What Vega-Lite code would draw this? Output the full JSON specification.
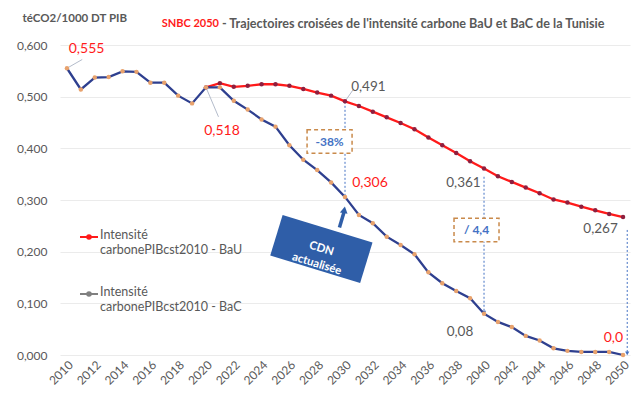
{
  "$schema": "https://vega.github.io/schema/vega-lite/v6.json",
  "width": 570,
  "height": 310,
  "autosize": {"type": "none"},
  "padding": {"left": 60, "top": 45, "right": 5, "bottom": 45},
  "background": "white",
  "config": {
    "view": {"stroke": null},
    "font": "Lato",
    "text": {"font": "Lato"}
  },
  "datasets": {
    "series": [
      {"year": 2020, "value": 0.518, "serie": "BaU"},
      {"year": 2021, "value": 0.526, "serie": "BaU"},
      {"year": 2022, "value": 0.519, "serie": "BaU"},
      {"year": 2023, "value": 0.521, "serie": "BaU"},
      {"year": 2024, "value": 0.524, "serie": "BaU"},
      {"year": 2025, "value": 0.524, "serie": "BaU"},
      {"year": 2026, "value": 0.521, "serie": "BaU"},
      {"year": 2027, "value": 0.515, "serie": "BaU"},
      {"year": 2028, "value": 0.508, "serie": "BaU"},
      {"year": 2029, "value": 0.502, "serie": "BaU"},
      {"year": 2030, "value": 0.491, "serie": "BaU"},
      {"year": 2031, "value": 0.482, "serie": "BaU"},
      {"year": 2032, "value": 0.471, "serie": "BaU"},
      {"year": 2033, "value": 0.460, "serie": "BaU"},
      {"year": 2034, "value": 0.449, "serie": "BaU"},
      {"year": 2035, "value": 0.437, "serie": "BaU"},
      {"year": 2036, "value": 0.421, "serie": "BaU"},
      {"year": 2037, "value": 0.406, "serie": "BaU"},
      {"year": 2038, "value": 0.391, "serie": "BaU"},
      {"year": 2039, "value": 0.375, "serie": "BaU"},
      {"year": 2040, "value": 0.361, "serie": "BaU"},
      {"year": 2041, "value": 0.346, "serie": "BaU"},
      {"year": 2042, "value": 0.335, "serie": "BaU"},
      {"year": 2043, "value": 0.324, "serie": "BaU"},
      {"year": 2044, "value": 0.313, "serie": "BaU"},
      {"year": 2045, "value": 0.301, "serie": "BaU"},
      {"year": 2046, "value": 0.295, "serie": "BaU"},
      {"year": 2047, "value": 0.287, "serie": "BaU"},
      {"year": 2048, "value": 0.280, "serie": "BaU"},
      {"year": 2049, "value": 0.273, "serie": "BaU"},
      {"year": 2050, "value": 0.267, "serie": "BaU"},
      {"year": 2010, "value": 0.555, "serie": "BaC"},
      {"year": 2011, "value": 0.514, "serie": "BaC"},
      {"year": 2012, "value": 0.537, "serie": "BaC"},
      {"year": 2013, "value": 0.538, "serie": "BaC"},
      {"year": 2014, "value": 0.549, "serie": "BaC"},
      {"year": 2015, "value": 0.548, "serie": "BaC"},
      {"year": 2016, "value": 0.527, "serie": "BaC"},
      {"year": 2017, "value": 0.527, "serie": "BaC"},
      {"year": 2018, "value": 0.502, "serie": "BaC"},
      {"year": 2019, "value": 0.487, "serie": "BaC"},
      {"year": 2020, "value": 0.518, "serie": "BaC"},
      {"year": 2021, "value": 0.518, "serie": "BaC"},
      {"year": 2022, "value": 0.492, "serie": "BaC"},
      {"year": 2023, "value": 0.475, "serie": "BaC"},
      {"year": 2024, "value": 0.456, "serie": "BaC"},
      {"year": 2025, "value": 0.442, "serie": "BaC"},
      {"year": 2026, "value": 0.406, "serie": "BaC"},
      {"year": 2027, "value": 0.378, "serie": "BaC"},
      {"year": 2028, "value": 0.358, "serie": "BaC"},
      {"year": 2029, "value": 0.334, "serie": "BaC"},
      {"year": 2030, "value": 0.306, "serie": "BaC"},
      {"year": 2031, "value": 0.271, "serie": "BaC"},
      {"year": 2032, "value": 0.255, "serie": "BaC"},
      {"year": 2033, "value": 0.229, "serie": "BaC"},
      {"year": 2034, "value": 0.213, "serie": "BaC"},
      {"year": 2035, "value": 0.195, "serie": "BaC"},
      {"year": 2036, "value": 0.160, "serie": "BaC"},
      {"year": 2037, "value": 0.139, "serie": "BaC"},
      {"year": 2038, "value": 0.124, "serie": "BaC"},
      {"year": 2039, "value": 0.110, "serie": "BaC"},
      {"year": 2040, "value": 0.080, "serie": "BaC"},
      {"year": 2041, "value": 0.064, "serie": "BaC"},
      {"year": 2042, "value": 0.054, "serie": "BaC"},
      {"year": 2043, "value": 0.037, "serie": "BaC"},
      {"year": 2044, "value": 0.028, "serie": "BaC"},
      {"year": 2045, "value": 0.013, "serie": "BaC"},
      {"year": 2046, "value": 0.008, "serie": "BaC"},
      {"year": 2047, "value": 0.006, "serie": "BaC"},
      {"year": 2048, "value": 0.006, "serie": "BaC"},
      {"year": 2049, "value": 0.006, "serie": "BaC"},
      {"year": 2050, "value": 0.0, "serie": "BaC"}
    ],
    "redLabels": [
      {"year": 2011.41, "value": 0.5916, "text": "0,555"},
      {"year": 2021.15, "value": 0.4341, "text": "0,518"},
      {"year": 2031.8, "value": 0.3323, "text": "0,306"},
      {"year": 2049.31, "value": 0.0329, "text": "0,0"}
    ],
    "grayLabels": [
      {"year": 2031.68, "value": 0.5181, "text": "0,491"},
      {"year": 2038.52, "value": 0.3323, "text": "0,361"},
      {"year": 2048.38, "value": 0.2433, "text": "0,267"},
      {"year": 2038.27, "value": 0.0451, "text": "0,08"}
    ],
    "guides": [
      {"year": 2030, "value": 0.49, "value2": 0.306},
      {"year": 2040, "value": 0.345, "value2": 0.085},
      {"year": 2050.3, "value": 0.242, "value2": 0.004}
    ],
    "guideHeads": [
      {"year": 2040, "value": 0.082},
      {"year": 2050.3, "value": 0.003}
    ],
    "leaders": [
      {"year": 2020, "value": 0.518, "year2": 2020.9, "value2": 0.461},
      {"year": 2030, "value": 0.491, "year2": 2030.6, "value2": 0.514},
      {"year": 2010, "value": 0.555, "year2": 2011.1, "value2": 0.572}
    ],
    "boxes": [
      {"year": 2028.89, "value": 0.4132, "text": "-38%"},
      {"year": 2039.46, "value": 0.2419, "text": "/ 4,4"}
    ],
    "cdn": [
      {"year": 2028.3, "value": 0.2051, "text": "CDN|actualisée"}
    ],
    "cdnArrow": [
      {"year": 2029.6, "value": 0.247, "year2": 2029.92, "value2": 0.276}
    ],
    "cdnHead": [
      {"year": 2029.95, "value": 0.281}
    ],
    "title1": [
      {"year": 2016.815, "value": 0.6406, "text": "SNBC 2050"}
    ],
    "title2": [
      {"year": 2021.15, "value": 0.6406, "text": "- Trajectoires croisées de l'intensité carbone BaU et BaC de la Tunisie"}
    ]
  },
  "encoding": {
    "x": {
      "field": "year",
      "type": "quantitative",
      "scale": {"domain": [2009.5, 2050.5], "nice": false, "zero": false},
      "axis": {
        "title": null,
        "values": [2010, 2012, 2014, 2016, 2018, 2020, 2022, 2024, 2026, 2028, 2030, 2032, 2034, 2036, 2038, 2040, 2042, 2044, 2046, 2048, 2050],
        "format": "d",
        "labelAngle": -45,
        "labelOverlap": false,
        "labelFont": "Lato",
        "labelFontSize": 12,
        "labelColor": "#595959",
        "ticks": false,
        "domain": false,
        "grid": false,
        "labelPadding": 4
      }
    },
    "y": {
      "field": "value",
      "type": "quantitative",
      "scale": {"domain": [0, 0.6], "nice": false},
      "axis": {
        "title": "téCO2/1000 DT PIB",
        "titleAngle": 0,
        "titleAlign": "left",
        "titleBaseline": "middle",
        "titleX": -38,
        "titleY": -27,
        "titleFont": "Lato",
        "titleFontSize": 11.5,
        "titleFontWeight": "bold",
        "titleColor": "#595959",
        "values": [0, 0.1, 0.2, 0.3, 0.4, 0.5, 0.6],
        "labelExpr": "replace(format(datum.value, '.3f'), '.', ',')",
        "labelFont": "Lato",
        "labelFontSize": 12,
        "labelColor": "#595959",
        "ticks": false,
        "domain": false,
        "labelPadding": 13,
        "grid": true,
        "gridColor": "#ebebeb",
        "gridWidth": 1
      }
    }
  },
  "layer": [
    {
      "data": {"name": "guides"},
      "mark": {"type": "rule", "color": "#4472c4", "strokeDash": [2, 2], "strokeWidth": 1},
      "encoding": {"y2": {"field": "value2"}}
    },
    {
      "data": {"name": "guideHeads"},
      "mark": {"type": "point", "shape": "triangle-down", "filled": true, "color": "#4472c4", "size": 18, "opacity": 1}
    },
    {
      "data": {"name": "leaders"},
      "mark": {"type": "rule", "color": "#b4bccb", "strokeWidth": 1},
      "encoding": {"x2": {"field": "year2"}, "y2": {"field": "value2"}}
    },
    {
      "data": {"name": "series"},
      "transform": [{"filter": "datum.year < 0"}],
      "mark": {"type": "line", "strokeWidth": 2},
      "encoding": {
        "color": {
          "field": "serie",
          "type": "nominal",
          "scale": {"domain": ["BaU", "BaC"], "range": ["#ff1a1a", "#808080"]},
          "legend": {
            "orient": "none",
            "legendX": 19,
            "legendY": 182,
            "title": null,
            "padding": 0,
            "symbolType": "M-1,0H1M-0.2,0A0.2,0.2,0,1,1,0.2,0A0.2,0.2,0,1,1,-0.2,0",
            "symbolSize": 324,
            "symbolStrokeWidth": 2,
            "labelFont": "Lato",
            "labelFontSize": 12.5,
            "labelColor": "#595959",
            "labelBaseline": "top",
            "labelLimit": 300,
            "labelOffset": 1,
            "rowPadding": 28,
            "labelExpr": "['Intensité', 'carbonePIBcst2010 - ' + datum.label]",
            "encode": {
              "labels": {"update": {"dy": {"value": -8}}}
            }
          }
        }
      }
    },
    {
      "data": {"name": "series"},
      "mark": {"type": "line", "strokeWidth": 2.3},
      "encoding": {
        "stroke": {
          "field": "serie",
          "type": "nominal",
          "scale": {"domain": ["BaU", "BaC"], "range": ["#ff1a1a", "#2e3f8f"]},
          "legend": null
        },
        "detail": {"field": "serie"}
      }
    },
    {
      "data": {"name": "series"},
      "mark": {"type": "point", "filled": true, "size": 20, "opacity": 1},
      "encoding": {
        "fill": {
          "field": "serie",
          "type": "nominal",
          "scale": {"domain": ["BaU", "BaC"], "range": ["#8e1f3f", "#e8a26d"]},
          "legend": null
        }
      }
    },
    {
      "data": {"name": "redLabels"},
      "mark": {"type": "text", "font": "Lato", "fontSize": 14, "color": "#ff1a1a", "align": "center", "baseline": "middle"},
      "encoding": {"text": {"field": "text"}}
    },
    {
      "data": {"name": "grayLabels"},
      "mark": {"type": "text", "font": "Lato", "fontSize": 13.5, "color": "#595959", "align": "center", "baseline": "middle"},
      "encoding": {"text": {"field": "text"}}
    },
    {
      "data": {"name": "boxes"},
      "mark": {"type": "point", "shape": "M-1,-0.52H1V0.52H-1Z", "size": 2025, "filled": true, "fill": "white", "stroke": "#c98a4b", "strokeWidth": 1.5, "strokeDash": [4, 3], "opacity": 1, "fillOpacity": 1}
    },
    {
      "data": {"name": "boxes"},
      "mark": {"type": "text", "font": "Lato", "fontSize": 12, "fontWeight": "bold", "color": "#4472c4", "align": "center", "baseline": "middle"},
      "encoding": {"text": {"field": "text"}}
    },
    {
      "data": {"name": "cdnArrow"},
      "mark": {"type": "rule", "color": "#2f5ea8", "strokeWidth": 3.5},
      "encoding": {"x2": {"field": "year2"}, "y2": {"field": "value2"}}
    },
    {
      "data": {"name": "cdnHead"},
      "mark": {"type": "point", "shape": "triangle-up", "filled": true, "color": "#2f5ea8", "size": 60, "opacity": 1, "angle": 10}
    },
    {
      "data": {"name": "cdn"},
      "mark": {"type": "point", "shape": "M-1,-0.45H1V0.45H-1Z", "size": 8836, "filled": true, "color": "#2f5ea8", "opacity": 1, "angle": 17}
    },
    {
      "data": {"name": "cdn"},
      "mark": {"type": "text", "font": "Lato", "fontSize": 11.5, "fontWeight": "bold", "color": "white", "align": "center", "baseline": "middle", "angle": 17, "lineBreak": "|", "lineHeight": 16},
      "encoding": {"text": {"field": "text"}}
    },
    {
      "data": {"name": "title1"},
      "mark": {"type": "text", "font": "Lato", "fontSize": 11, "fontWeight": "bold", "color": "#ff1a1a", "align": "left", "baseline": "middle"},
      "encoding": {"text": {"field": "text"}}
    },
    {
      "data": {"name": "title2"},
      "mark": {"type": "text", "font": "Lato", "fontSize": 12.6, "fontWeight": "bold", "color": "#595959", "align": "left", "baseline": "middle"},
      "encoding": {"text": {"field": "text"}}
    }
  ]
}
